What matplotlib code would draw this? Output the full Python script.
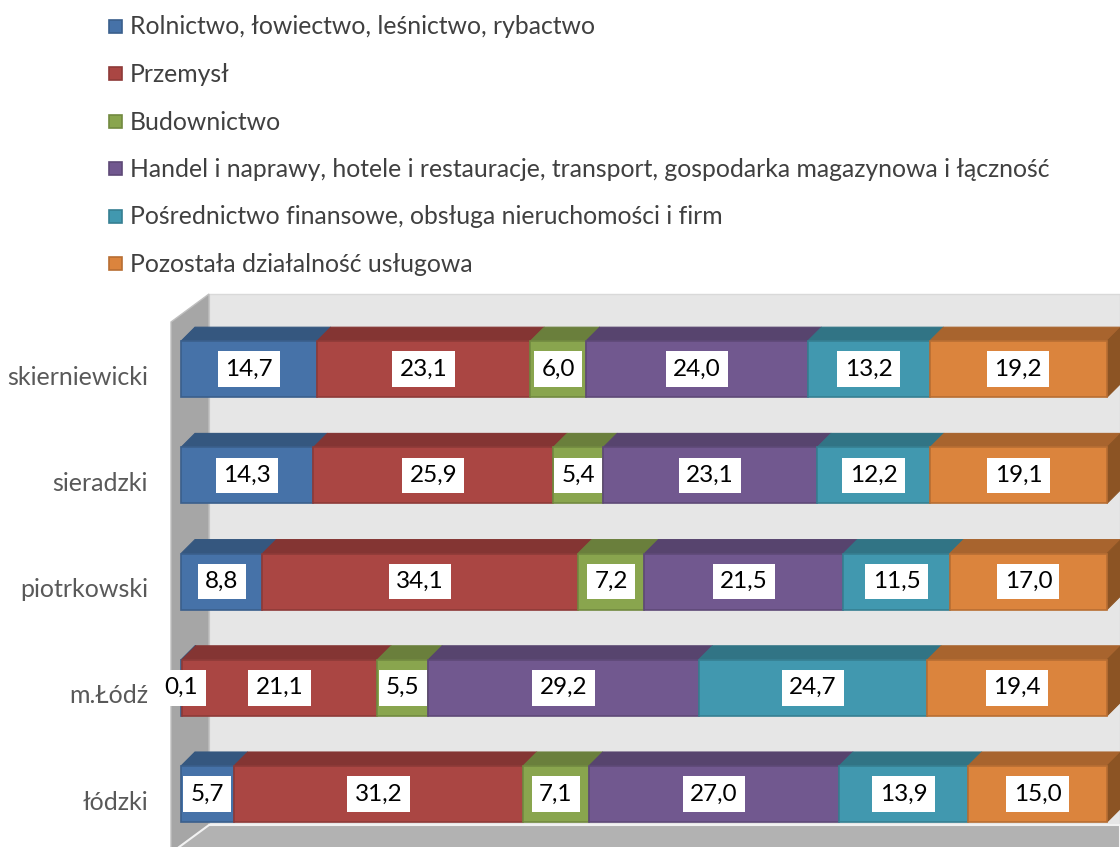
import numpy as np
import matplotlib.pyplot as plt
from matplotlib.patches import Polygon, Rectangle

plt.rcParams['font.family'] = ['Lato', 'DejaVu Sans']

regions = ["łódzki", "m.Łódź", "piotrkowski", "sieradzki", "skierniewicki"]
sectors = [
    "Rolnictwo, łowiectwo, leśnictwo, rybactwo",
    "Przemysł",
    "Budownictwo",
    "Handel i naprawy, hotele i restauracje, transport, gospodarka magazynowa i łączność",
    "Pośrednictwo finansowe, obsługa nieruchomości i firm",
    "Pozostała działalność usługowa",
]
rolnictwo = [5.7, 0.1, 8.8, 14.3, 14.7]
przemysl = [31.2, 21.1, 34.1, 25.9, 23.1]
budownictwo = [7.1, 5.5, 7.2, 5.4, 6.0]
handel = [27.0, 29.2, 21.5, 23.1, 24.0]
posrednictwo = [13.9, 24.7, 11.5, 12.2, 13.2]
pozostala = [15.0, 19.4, 17.0, 19.1, 19.2]

front_colors = ["#4672a8", "#aa4643", "#89a54e", "#71588f", "#4198af", "#db843d"]
top_colors = ["#35577f", "#843533", "#6a7f3c", "#57446e", "#317485", "#a8642e"]
edge_colors = ["#3a5f8c", "#8e3a38", "#728a40", "#5e4977", "#367f92", "#b86e33"]
side_color = "#8c5424"

W, H = 1120, 847
fig = plt.figure(figsize=(W / 100, H / 100), dpi=100)

# background axes in pixel coordinates: walls, floor, legend
bg = fig.add_axes([0, 0, 1, 1], zorder=0)
bg.set_xlim(0, W)
bg.set_ylim(H, 0)
bg.axis("off")

bg.add_patch(Polygon([(209, 294), (1120, 294), (1120, 825), (209, 825)],
                     closed=True, facecolor="#e6e6e6", edgecolor="#d9d9d9", lw=1))
bg.add_patch(Polygon([(171, 322), (209, 294), (209, 825), (171, 853)],
                     closed=True, facecolor="#a6a6a6", edgecolor="#bfbfbf", lw=1))
bg.add_patch(Polygon([(171, 853), (209, 825), (1120, 825), (1120, 853)],
                     closed=True, facecolor="#b2b2b2", edgecolor="#f2f2f2", lw=1.5))

legend_y0, legend_dy = 27, 47.5
for i, (name, col) in enumerate(zip(sectors, front_colors)):
    yy = legend_y0 + i * legend_dy
    bg.add_patch(Rectangle((109, yy - 7), 13, 13, facecolor=col,
                           edgecolor=edge_colors[i], lw=1.2))
    bg.text(130, yy, name, fontsize=17.8, color="#404040", va="center", ha="left")

# data axes: x in percent, y = category index
px_per_x = 9.26
px_per_y = 106.2
x0_px, y0_px = 181, 794
ax = fig.add_axes([0, 0, 1, 1], zorder=1)
ax.patch.set_alpha(0)
ax.set_xlim(-x0_px / px_per_x, (W - x0_px) / px_per_x)
ax.set_ylim((y0_px - H) / px_per_y, y0_px / px_per_y)
ax.axis("off")

data = np.array([rolnictwo, przemysl, budownictwo, handel, posrednictwo, pozostala])
shares = data / data.sum(axis=0) * 100
ypos = np.arange(len(regions))
bar_h = 56 / px_per_y
dx, dy = 14 / px_per_x, 14 / px_per_y

left = np.zeros(len(regions))
for k in range(len(sectors)):
    widths = shares[k]
    ax.barh(ypos, widths, left=left, height=bar_h, color=front_colors[k],
            edgecolor=edge_colors[k], linewidth=1.2, zorder=3)
    for j in range(len(regions)):
        l, r = left[j], left[j] + widths[j]
        top = ypos[j] + bar_h / 2
        ax.add_patch(Polygon([(l, top), (r, top), (r + dx, top + dy), (l + dx, top + dy)],
                             closed=True, facecolor=top_colors[k],
                             edgecolor=top_colors[k], lw=0.8, zorder=2))
        if k == len(sectors) - 1:
            bot = ypos[j] - bar_h / 2
            ax.add_patch(Polygon([(r, bot), (r + dx, bot + dy), (r + dx, top + dy), (r, top)],
                                 closed=True, facecolor=side_color,
                                 edgecolor=side_color, lw=0.8, zorder=2))
        ax.text((l + r) / 2, ypos[j], f"{data[k][j]:.1f}".replace(".", ","),
                ha="center", va="center", fontsize=17.5, color="black", zorder=5,
                bbox=dict(boxstyle="square,pad=0.3", facecolor="white", edgecolor="none"))
    left += widths

for j, name in enumerate(regions):
    ax.text(-33 / px_per_x, ypos[j] - 8 / px_per_y, name, ha="right", va="center",
            fontsize=18, color="#595959")

fig.savefig("out.png", dpi=100)
